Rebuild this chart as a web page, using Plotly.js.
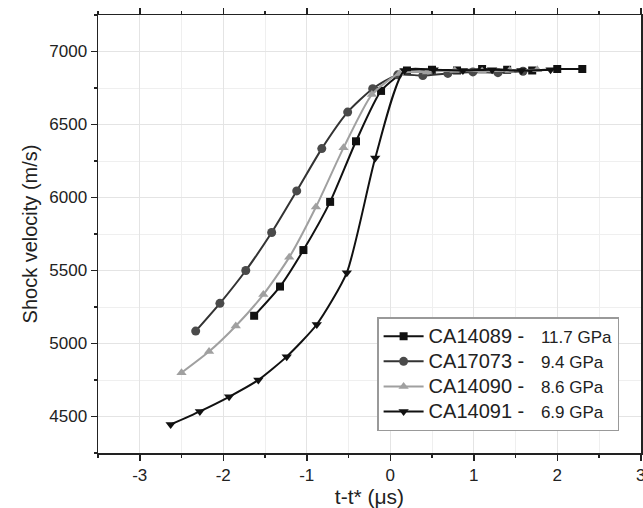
<!DOCTYPE html>
<html>
<head>
<meta charset="utf-8">
<script src="https://cdn.plot.ly/plotly-3.0.1.min.js"></script>
<style>html,body{margin:0;padding:0;background:#fff;}#chart{width:643px;height:508px;}</style>
</head>
<body>
<div id="chart"></div>
<script>
// Data
const names = ["CA14089 -", "CA17073 -", "CA14090 -", "CA14091 -"];
const pressures = ["11.7 GPa", "9.4 GPa", "8.6 GPa", "6.9 GPa"];

const xTickVals = [-3,-2,-1,0,1,2,3];
const xTickText = ["-3","-2","-1","0","1","2","3"];
const yTickVals = [4500,5000,5500,6000,6500,7000];
const yTickText = ["4500","5000","5500","6000","6500","7000"];

const x14089 = [-1.63,-1.32,-1.04,-0.72,-0.41,-0.11,0.2,0.5,0.8,1.1,1.4,1.7,2.0,2.3];
const y14089 = [5190,5390,5640,5970,6385,6730,6870,6875,6870,6880,6875,6870,6880,6880];

const x17073 = [-2.33,-2.04,-1.73,-1.42,-1.12,-0.82,-0.51,-0.21,0.09,0.39,0.69,0.99,1.29,1.59];
const y17073 = [5085,5275,5500,5760,6045,6335,6585,6745,6840,6835,6850,6860,6855,6865];

const x14090 = [-2.5,-2.17,-1.85,-1.52,-1.21,-0.89,-0.56,-0.22,0.11,0.44,0.77,1.1,1.43,1.76];
const y14090 = [4800,4945,5120,5335,5590,5935,6340,6705,6850,6860,6870,6865,6870,6875];

const x14091 = [-2.63,-2.28,-1.93,-1.58,-1.24,-0.88,-0.52,-0.18,0.17,0.52,0.87,1.22,1.57,1.92];
const y14091 = [4445,4535,4635,4750,4910,5130,5485,6270,6870,6875,6870,6875,6870,6875];

function nm(i){
  return "<span style='font-size:20px'>" + names[i] + "\u00a0\u00a0\u00a0</span>" +
         "<span style='font-size:17px'>" + pressures[i] + "</span>";
}

const traces = [
  {x:x14089, y:y14089, name:nm(0), mode:'lines+markers',
   line:{color:'#111', width:2, shape:'spline', smoothing:0.6},
   marker:{symbol:'square', size:8, color:'#111'}},
  {x:x17073, y:y17073, name:nm(1), mode:'lines+markers',
   line:{color:'#333', width:2, shape:'spline', smoothing:0.6},
   marker:{symbol:'circle', size:9, color:'#4a4a4a'}},
  {x:x14090, y:y14090, name:nm(2), mode:'lines+markers',
   line:{color:'#a0a0a0', width:2, shape:'spline', smoothing:0.6},
   marker:{symbol:'triangle-up', size:9, color:'#a0a0a0'}},
  {x:x14091, y:y14091, name:nm(3), mode:'lines+markers',
   line:{color:'#111', width:2, shape:'spline', smoothing:0.6},
   marker:{symbol:'triangle-down', size:9, color:'#111'}}
];

const axisCommon = {
  showline:true, linecolor:'#222', linewidth:1.5, mirror:'ticks',
  ticks:'outside', ticklen:6, tickwidth:1.5, tickcolor:'#222',
  showgrid:true, gridcolor:'#e4e4e4', gridwidth:1, zeroline:false,
  tickmode:'array', ticklabeloverflow:'allow',
  tickfont:{family:'Liberation Sans, Arial, sans-serif', size:17, color:'#222'}
};

const layout = {
  width:643, height:508,
  margin:{l:98, r:2, t:15, b:55},
  paper_bgcolor:'#fff', plot_bgcolor:'#fff',
  font:{family:'Liberation Sans, Arial, sans-serif', color:'#222'},
  showlegend:true,
  xaxis:Object.assign({}, axisCommon, {
    range:[-3.5,3.003], tickvals:xTickVals, ticktext:xTickText,
    minor:{dtick:0.5, tick0:0, ticklen:3, tickwidth:1.5, tickcolor:'#222', ticks:'outside', showgrid:true, gridcolor:'#efefef'},
    title:{text:'t-t* (μs)', font:{size:21, color:'#222'}, standoff:0}
  }),
  yaxis:Object.assign({}, axisCommon, {
    range:[4250,7250], tickvals:yTickVals, ticktext:yTickText,
    minor:{dtick:250, tick0:0, ticklen:3, tickwidth:1.5, tickcolor:'#222', ticks:'outside', showgrid:true, gridcolor:'#efefef'},
    title:{text:'Shock velocity (m/s)', font:{size:20, color:'#222'}, standoff:6}
  }),
  legend:{x:0.514, y:0.31, xanchor:'left', yanchor:'top',
    bgcolor:'#fff', bordercolor:'#999', borderwidth:1.5,
    font:{size:17, color:'#222'}, tracegroupgap:0, itemwidth:40}
};

Plotly.newPlot('chart', traces, layout, {staticPlot:true, displayModeBar:false});
</script>
</body>
</html>
